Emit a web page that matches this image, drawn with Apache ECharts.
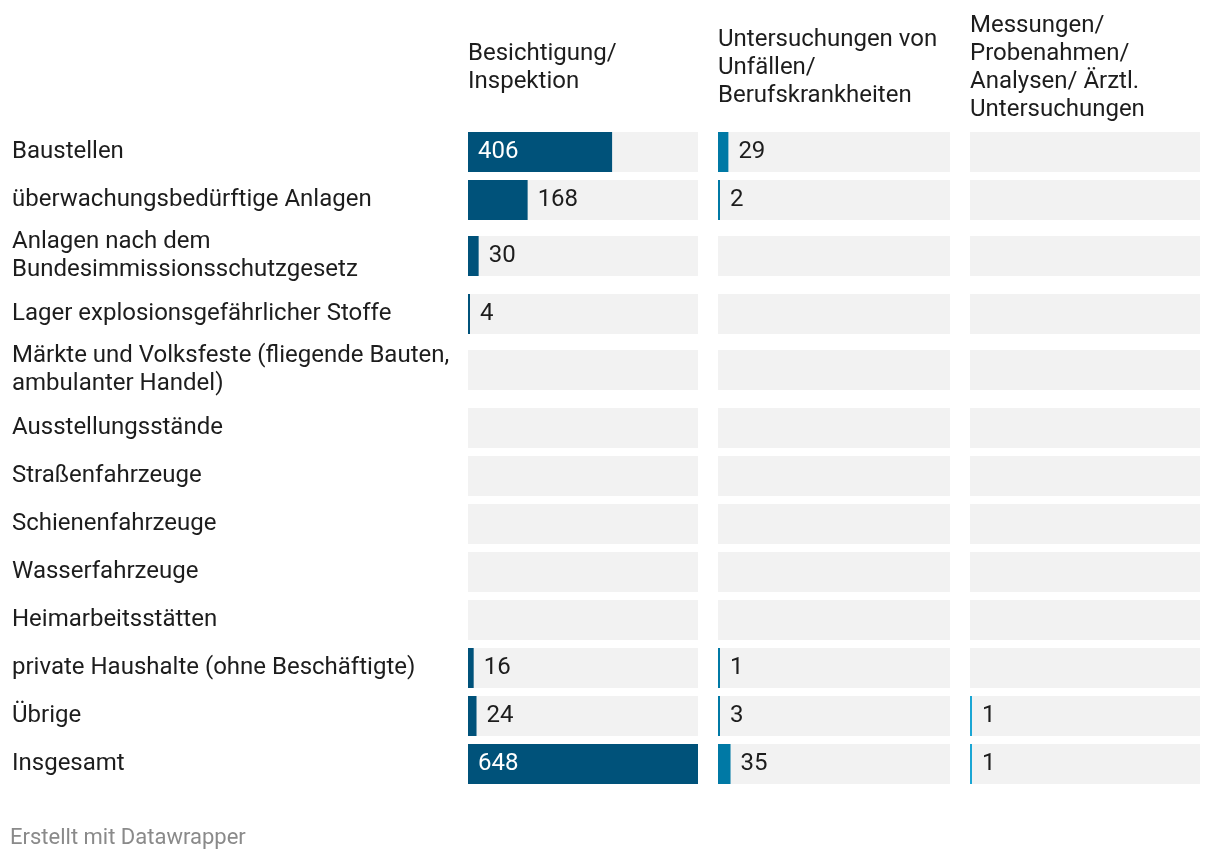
<!DOCTYPE html>
<html>
<head>
<meta charset="utf-8">
<script src="https://cdn.jsdelivr.net/npm/echarts@6/dist/echarts.min.js"></script>
<style>
html,body{margin:0;padding:0;background:#fff;}
#chart{width:1220px;height:860px;}
</style>
</head>
<body>
<div id="chart"></div>
<script>
// ---- data ----
const categories = [
  'Baustellen',
  'überwachungsbedürftige Anlagen',
  'Anlagen nach dem\nBundesimmissionsschutzgesetz',
  'Lager explosionsgefährlicher Stoffe',
  'Märkte und Volksfeste (fliegende Bauten,\nambulanter Handel)',
  'Ausstellungsstände',
  'Straßenfahrzeuge',
  'Schienenfahrzeuge',
  'Wasserfahrzeuge',
  'Heimarbeitsstätten',
  'private Haushalte (ohne Beschäftigte)',
  'Übrige',
  'Insgesamt'
];
const columnHeaders = [
  'Besichtigung/\nInspektion',
  'Untersuchungen von\nUnfällen/\nBerufskrankheiten',
  'Messungen/\nProbenahmen/\nAnalysen/ Ärztl.\nUntersuchungen'
];
const inspektion = [406, 168, 30, 4, null, null, null, null, null, null, 16, 24, 648];
const unfaelle   = [29, 2, null, null, null, null, null, null, null, null, 1, 3, 35];
const messungen  = [null, null, null, null, null, null, null, null, null, null, null, 1, 1];
const footerText = 'Erstellt mit Datawrapper';

// ---- layout ----
const seriesData = [inspektion, unfaelle, messungen];
const colors = ['#00527a', '#0079a5', '#1aa6d4'];
const colLeft = [468, 718, 970];
const colWidth = [230, 232, 230];
const maxVal = Math.max(...inspektion, ...unfaelle.filter(v => v != null), ...messungen.filter(v => v != null));
const FONT = 'Roboto';
const TXT = '#1d1d1d';

// row tops
const rowTops = [];
let y = 128;
categories.forEach(c => {
  const lines = c.split('\n').length;
  if (lines > 1) { rowTops.push(y + 12); y += 66; }
  else { rowTops.push(y + 4); y += 48; }
});

const grids = [], xAxes = [], yAxes = [], series = [];
categories.forEach((cat, r) => {
  for (let c = 0; c < 3; c++) {
    const idx = grids.length;
    grids.push({ left: colLeft[c], top: rowTops[r], width: colWidth[c], height: 40, containLabel: false });
    xAxes.push({ type: 'value', gridIndex: idx, min: 0, max: maxVal, show: false });
    yAxes.push({
      type: 'category', gridIndex: idx, data: [cat],
      axisLine: { show: false }, axisTick: { show: false }, splitLine: { show: false },
      axisLabel: c === 0 ? {
        show: true, margin: colLeft[0] - 12, align: 'left',
        fontFamily: FONT, fontSize: 24, color: TXT, lineHeight: 28,
        padding: [6, 0, 0, 0]
      } : { show: false }
    });
    series.push({
      type: 'bar', xAxisIndex: idx, yAxisIndex: idx, silent: true,
      data: [maxVal], barWidth: 40, barGap: '-100%',
      itemStyle: { color: '#f2f2f2' }, animation: false, z: 1
    });
    const v = seriesData[c][r];
    const inside = v != null && v / maxVal > 0.5;
    series.push({
      type: 'bar', xAxisIndex: idx, yAxisIndex: idx, silent: true,
      data: [v], barWidth: 40, barGap: '-100%', barMinHeight: 2,
      itemStyle: { color: colors[c] }, animation: false, z: 2,
      label: {
        show: v != null,
        position: inside ? 'insideLeft' : 'right',
        distance: 10,
        fontFamily: FONT, fontSize: 24,
        padding: [6, 0, 0, 0],
        color: inside ? '#ffffff' : TXT,
        formatter: p => p.value == null ? '' : String(p.value)
      }
    });
  }
});

const graphics = columnHeaders.map((h, c) => {
  const n = h.split('\n').length;
  return {
    type: 'text', left: colLeft[c], top: 66 - n * 14 + 2,
    style: { text: h, fontFamily: FONT, fontSize: 24, lineHeight: 28, fill: TXT }
  };
});
graphics.push({
  type: 'text', left: 10, top: 827,
  style: { text: footerText, fontFamily: FONT, fontSize: 22, fill: '#8a8a8a' }
});

const chart = echarts.init(document.getElementById('chart'), null, { renderer: 'canvas' });
chart.setOption({
  animation: false,
  grid: grids, xAxis: xAxes, yAxis: yAxes, series: series,
  graphic: graphics
});
</script>
</body>
</html>
